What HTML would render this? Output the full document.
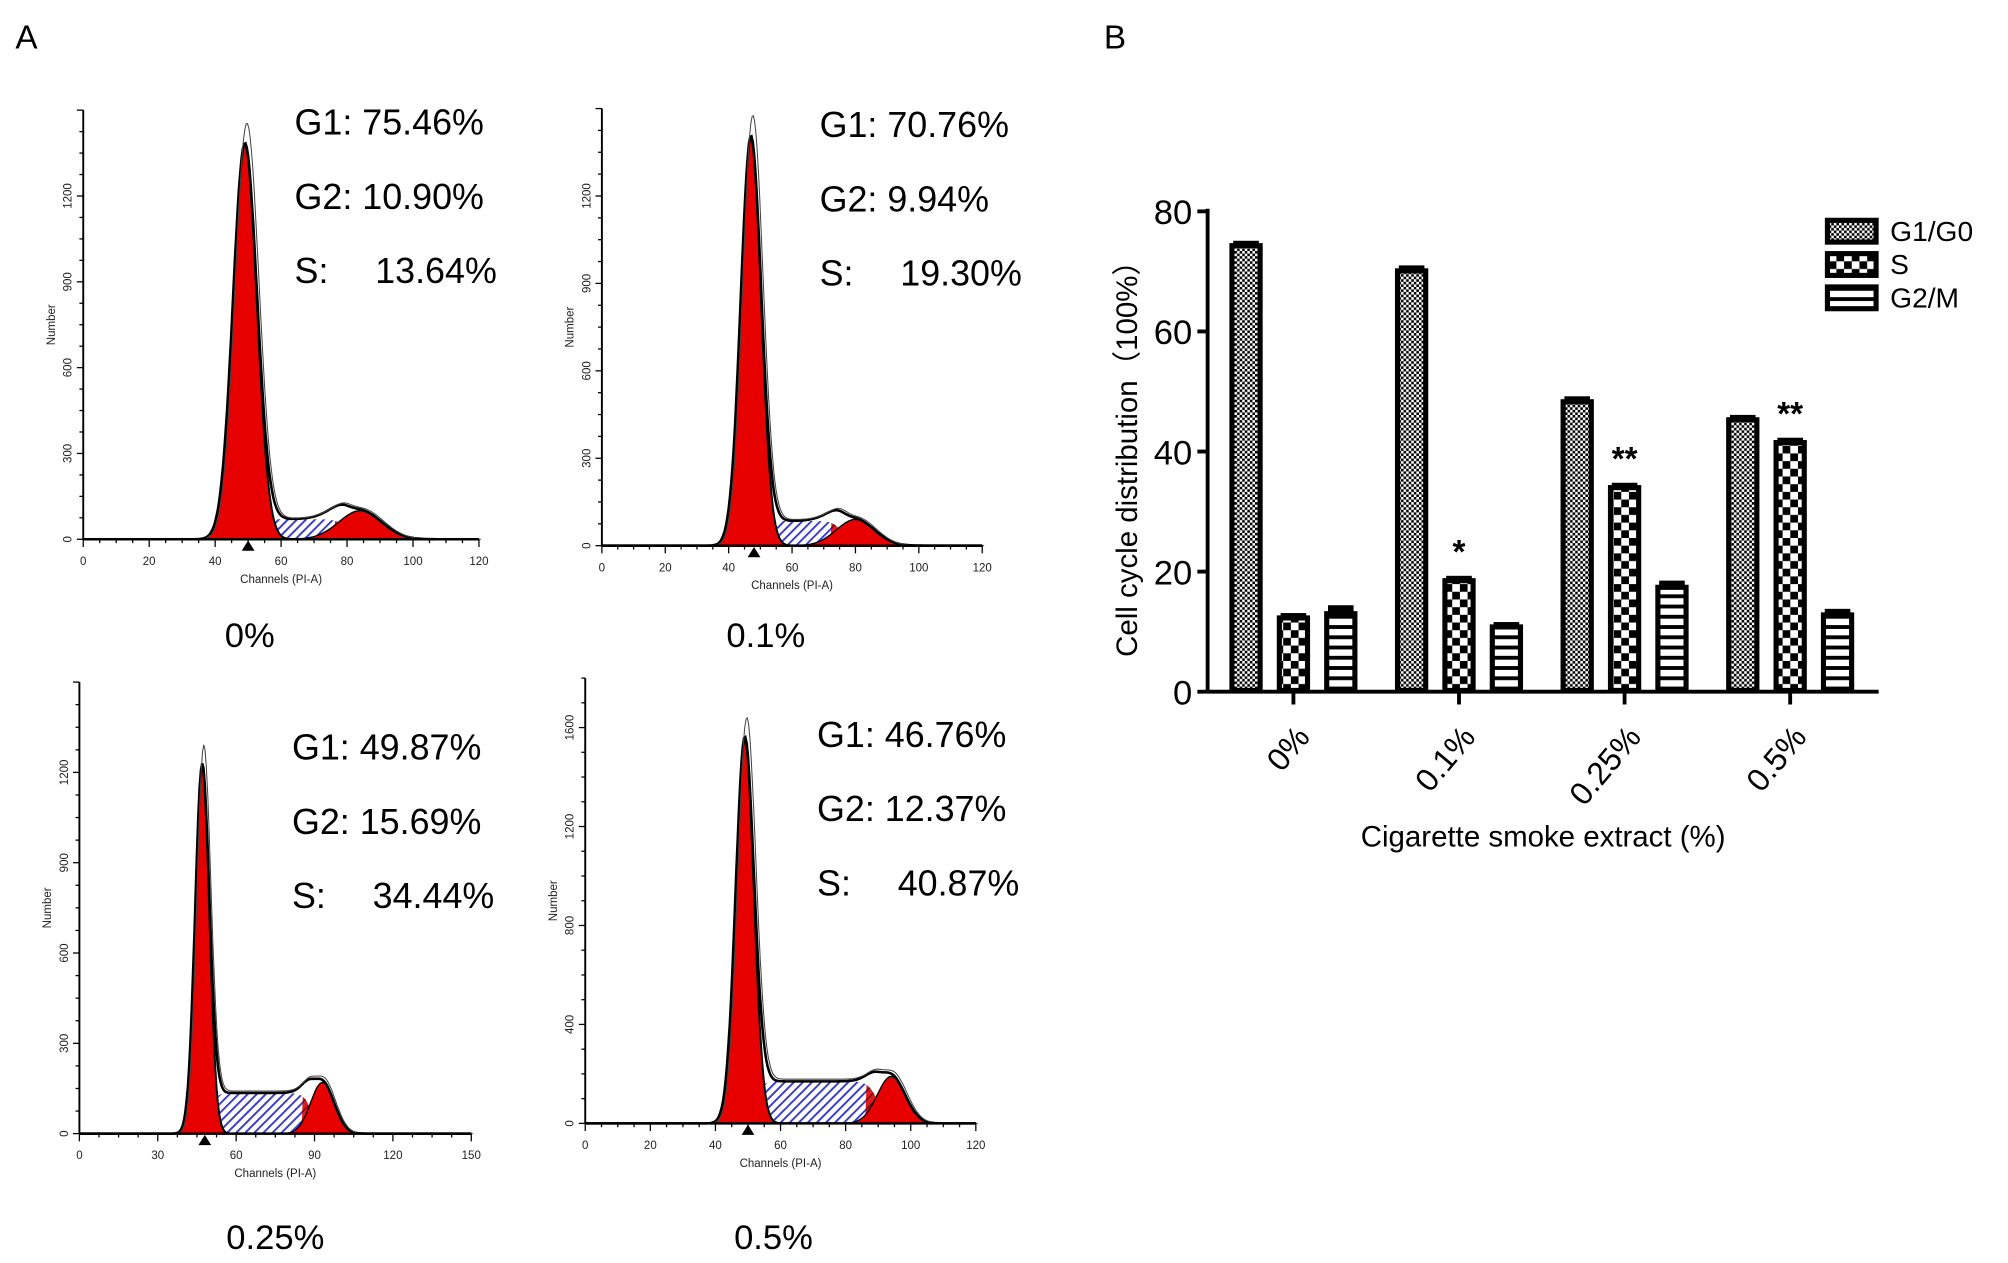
<!DOCTYPE html>
<html><head><meta charset="utf-8"><style>
html,body{margin:0;padding:0;background:#fff;}
svg{display:block;font-family:"Liberation Sans",Arial,sans-serif;}
</style></head><body>
<svg id="fig" width="2008" height="1263" viewBox="0 0 1568 986" preserveAspectRatio="none" xmlns="http://www.w3.org/2000/svg">
<defs>
<pattern id="pG1" width="4" height="4" patternUnits="userSpaceOnUse"><rect width="4" height="4" fill="#fff"/><rect width="2" height="2" fill="#000"/><rect x="2" y="2" width="2" height="2" fill="#000"/></pattern>
<pattern id="pS" width="12" height="12" patternUnits="userSpaceOnUse"><rect width="12" height="12" fill="#fff"/><rect width="6" height="6" fill="#000"/><rect x="6" y="6" width="6" height="6" fill="#000"/></pattern>
<pattern id="pG2" width="8" height="8" patternUnits="userSpaceOnUse"><rect width="8" height="8" fill="#fff"/><rect width="8" height="3" fill="#000"/></pattern>
<pattern id="pHatch" width="5" height="5" patternUnits="userSpaceOnUse" patternTransform="rotate(45)"><rect width="5" height="5" fill="#fff"/><rect width="1.5" height="5" fill="#3a3acc"/></pattern>
<pattern id="pRedHatch" width="5" height="5" patternUnits="userSpaceOnUse" patternTransform="rotate(45)"><rect width="5" height="5" fill="#e00000"/><rect width="1" height="5" fill="#600"/></pattern>
</defs>
<text x="12" y="38" font-size="26">A</text>
<text x="862" y="38" font-size="26">B</text>
<g id="hists"></g>
<g id="bars"></g>
</svg>
<script>
// ---------- Bar chart data ----------
const categories = ["0%", "0.1%", "0.25%", "0.5%"];
const seriesNames = ["G1/G0", "S", "G2/M"];
const g1Values = [74.5, 70.3, 48.5, 45.5];
const sValues = [12.5, 18.7, 34.2, 41.7];
const g2Values = [13.2, 11.0, 17.6, 13.0];
const g1Err = [0.6, 0.7, 0.7, 0.6];
const sErr = [0.6, 0.6, 0.6, 0.6];
const g2Err = [1.2, 0.6, 0.9, 0.8];
const sigMarks = ["", "*", "**", "**"];
const yTicks = [0, 20, 40, 60, 80];

// ---------- Histogram data (peak parameters) ----------
const histConds = ["0%", "0.1%", "0.25%", "0.5%"];
const histG1Pct = ["75.46%", "70.76%", "49.87%", "46.76%"];
const histG2Pct = ["10.90%", "9.94%", "15.69%", "12.37%"];
const histSPct = ["13.64%", "19.30%", "34.44%", "40.87%"];
const g1Mean = [49, 47, 47, 49];
const g1Height = [1380, 1400, 1220, 1550];
const g1Sd = [3.6, 3.2, 2.7, 2.8];
const g2Mean = [84, 80, 93, 94];
const g2Height = [100, 90, 170, 190];
const g2Sd = [6.5, 6, 4.5, 4.3];
const sHeight = [70, 85, 135, 170];
const xMaxes = [120, 120, 150, 120];
const xTickLists = [[0,20,40,60,80,100,120],[0,20,40,60,80,100,120],[0,30,60,90,120,150],[0,20,40,60,80,100,120]];
const yTickLists = [[0,300,600,900,1200],[0,300,600,900,1200],[0,300,600,900,1200],[0,400,800,1200,1600]];
const yMaxes = [1500, 1500, 1500, 1800];

const NS = "http://www.w3.org/2000/svg";
function mk(tag, attrs, parent, txt){const e=document.createElementNS(NS,tag);for(const k in attrs)e.setAttribute(k,attrs[k]);if(txt!==undefined)e.textContent=txt;parent.appendChild(e);return e;}

// ---------- Bar chart ----------
const bars = document.getElementById('bars');
const ax0 = 943, ay0 = 540, ay80 = 165, axEnd = 1467;
const yScale = v => ay0 - (v/80)*(ay0-ay80);
const groupCenter = i => 1010 + i*129.3;
const barW = 26, barStep = 37;
const vals = [g1Values, sValues, g2Values];
const errs = [g1Err, sErr, g2Err];
const pats = ["url(#pG1)", "url(#pS)", "url(#pG2)"];
const axisY = mk('line',{x1:ax0,y1:ay80-2,x2:ax0,y2:ay0,stroke:'#000','stroke-width':3},bars);
 
const axisX = mk('line',{x1:ax0,y1:ay0,x2:axEnd,y2:ay0,stroke:'#000','stroke-width':3},bars);
 
yTicks.forEach(t=>{
  const y=yScale(t);
  mk('line',{x1:ax0-8,y1:y,x2:ax0,y2:y,stroke:'#000','stroke-width':3},bars);
  const tl=mk('text',{x:ax0-12,y:y+10,'font-size':27,'text-anchor':'end'},bars,String(t));
   
});
categories.forEach((c,i)=>{
  const cx=groupCenter(i);
  mk('line',{x1:cx,y1:ay0,x2:cx,y2:ay0+10,stroke:'#000','stroke-width':3},bars);
  const cl=mk('text',{x:0,y:0,'font-size':25,'text-anchor':'end',transform:`translate(${cx+14},${ay0+36}) rotate(-50)`},bars,c);
   
  for(let s=0;s<3;s++){
    const v=vals[s][i], bx=cx+(s-1)*barStep-barW/2, by=yScale(v);
    const eTop=yScale(v+errs[s][i]);
    mk('rect',{x:bx+3,y:eTop,width:barW-6,height:by-eTop+2,fill:'#000'},bars);
    const r=mk('rect',{x:bx+2,y:by+1,width:barW-4,height:ay0-by-2,fill:pats[s],stroke:'#000','stroke-width':4},bars);
    
    
    if(s===1 && sigMarks[i]){
      const sm=mk('text',{x:bx+barW/2,y:yScale(v+errs[s][i])-10,'font-size':26,'font-weight':'bold','text-anchor':'middle'},bars,sigMarks[i]);
       
    }
  }
});
const yt=mk('text',{x:0,y:0,'font-size':23,'text-anchor':'middle',transform:`translate(888,${(ay0+ay80)/2}) rotate(-90)`},bars,"Cell cycle distribution\uff08100%\uff09");
 
const xt=mk('text',{x:1205,y:661,'font-size':23,'text-anchor':'middle'},bars,"Cigarette smoke extract (%)");
 
seriesNames.forEach((n,s)=>{
  const ly=172+s*26;
  const lr=mk('rect',{x:1427,y:ly,width:38,height:17,fill:pats[s],stroke:'#000','stroke-width':4},bars);
   
  const lt=mk('text',{x:1476,y:ly+16,'font-size':22},bars,n);
   
});

// ---------- Histograms ----------
const hists=document.getElementById('hists');
const panels=[
  {ax:65, by:421, ty:153, tv:1200, xr:374, tx:230, t1:95, cx:195, cy:505},
  {ax:470,by:426, ty:153, tv:1200, xr:767, tx:640, t1:97, cx:598, cy:505},
  {ax:62, by:885, ty:603, tv:1200, xr:368, tx:228, t1:583, cx:215, cy:975},
  {ax:457,by:877, ty:568, tv:1600, xr:762, tx:638, t1:573, cx:604, cy:975}
];
function gauss(x,m,sd,h){return h*Math.exp(-0.5*((x-m)/sd)**2);}
function sig(x){return 1/(1+Math.exp(-x));}
panels.forEach((p,i)=>{
  const g=mk('g',{},hists);
  
  
  const xs=v=>p.ax+(v/xMaxes[i])*(p.xr-p.ax);
  const ys=v=>p.by-(v/p.tv)*(p.by-p.ty);
  const sPart=x=>sHeight[i]*sig((x-g1Mean[i]-3)/1.2)*sig((g2Mean[i]-4-x)/1.5);
  const N=300, pts=[];
  for(let k=0;k<=N;k++)pts.push(xMaxes[i]*k/N);
  const path=f=>'M'+pts.map(x=>xs(x).toFixed(1)+','+ys(f(x)).toFixed(1)).join(' L')+' Z';
  mk('path',{d:path(sPart),fill:'url(#pHatch)'},g);
  mk('path',{d:path(x=>Math.min(sPart(x),sHeight[i])*(x<g1Mean[i]+6||x>g2Mean[i]-8?1:0)),fill:'url(#pRedHatch)',opacity:0.9},g);
  mk('path',{d:path(x=>gauss(x,g1Mean[i],g1Sd[i],g1Height[i])),fill:'#e60000',stroke:'#000','stroke-width':1.5},g);
  mk('path',{d:path(x=>gauss(x,g2Mean[i],g2Sd[i],g2Height[i])),fill:'#e60000',stroke:'#000','stroke-width':1},g);
  const env=x=>gauss(x,g1Mean[i],g1Sd[i],g1Height[i])+gauss(x,g2Mean[i],g2Sd[i],g2Height[i])+sPart(x);
  mk('path',{d:'M'+pts.map(x=>xs(x).toFixed(1)+','+ys(env(x)).toFixed(1)).join(' L'),fill:'none',stroke:'#000','stroke-width':2},g);
  mk('path',{d:'M'+pts.map(x=>xs(x+0.6).toFixed(1)+','+ys(env(x)*1.05).toFixed(1)).join(' L'),fill:'none',stroke:'#444','stroke-width':0.8},g);
  const top=p.by-(yMaxes[i]/p.tv)*(p.by-p.ty);
  mk('line',{x1:p.ax,y1:top,x2:p.ax,y2:p.by,stroke:'#000','stroke-width':1.5},g);
  mk('line',{x1:p.ax,y1:p.by,x2:p.xr,y2:p.by,stroke:'#000','stroke-width':2},g);
  const step=xTickLists[i][1]/4;
  for(let v=0;v<=xMaxes[i]+0.01;v+=step)mk('line',{x1:xs(v),y1:p.by,x2:xs(v),y2:p.by+(v%xTickLists[i][1]===0?6:3),stroke:'#000','stroke-width':1},g);
  const ystep=yTickLists[i][1]/4;
  for(let v=0;v<=yMaxes[i];v+=ystep)mk('line',{x1:p.ax-(v%yTickLists[i][1]===0?5:3),y1:ys(v),x2:p.ax,y2:ys(v),stroke:'#000','stroke-width':1},g);
  xTickLists[i].forEach(v=>mk('text',{x:xs(v),y:p.by+20,'font-size':9,'text-anchor':'middle',fill:'#222'},g,String(v)));
  yTickLists[i].forEach(v=>mk('text',{x:0,y:0,'font-size':9,'text-anchor':'middle',fill:'#222',transform:`translate(${p.ax-9},${ys(v)}) rotate(-90)`},g,String(v)));
  mk('text',{x:0,y:0,'font-size':9,'text-anchor':'middle',fill:'#222',transform:`translate(${p.ax-22},${(p.by+top)/2}) rotate(-90)`},g,"Number");
  mk('text',{x:(p.ax+p.xr)/2,y:p.by+34,'font-size':9,'text-anchor':'middle',fill:'#222'},g,"Channels (PI-A)");
  mk('path',{d:`M${xs(g1Mean[i]+1)-5},${p.by+9} L${xs(g1Mean[i]+1)+5},${p.by+9} L${xs(g1Mean[i]+1)},${p.by+1} Z`,fill:'#000'},g);
  const a=mk('text',{x:p.tx,y:p.t1+10,'font-size':28},g,"G1: "+histG1Pct[i]);
   
  const b=mk('text',{x:p.tx,y:p.t1+68,'font-size':28},g,"G2: "+histG2Pct[i]);
   
  const c1=mk('text',{x:p.tx,y:p.t1+126,'font-size':28},g,"S:");
   
  const c=mk('text',{x:p.tx+63,y:p.t1+126,'font-size':28},g,histSPct[i]);
   
  const d=mk('text',{x:p.cx,y:p.cy,'font-size':27,'text-anchor':'middle'},g,histConds[i]);
   
});
</script>
</body></html>
